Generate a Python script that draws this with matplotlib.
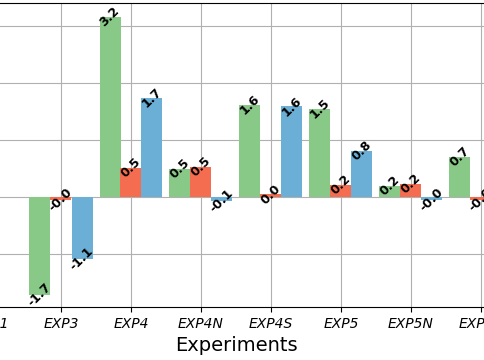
import numpy as np
import matplotlib
matplotlib.use("Agg")
import matplotlib.pyplot as plt

# experiments on the x axis (the picture only shows part of the full chart)
experiments = ["EXP1", "EXP3", "EXP4", "EXP4N", "EXP4S", "EXP5", "EXP5N", "EXP5S"]

# three series per experiment (nan = not visible in the picture)
green_vals = [np.nan, -1.72, 3.16, 0.49, 1.62, 1.54, 0.20, 0.70]
red_vals = [np.nan, -0.049, 0.51, 0.53, 0.045, 0.21, 0.23, -0.049]
blue_vals = [np.nan, -1.08, 1.74, -0.065, 1.59, 0.81, -0.049, np.nan]

series = [
    (green_vals, "#88c988", -0.3),
    (red_vals, "#f46d50", 0.0),
    (blue_vals, "#6baed6", 0.3),
]

fig = plt.figure(figsize=(4.85, 3.6), dpi=100)

# axes reach past the canvas edges, as in the cropped reference
x_lo, x_hi = -0.6, 7.6
px_per_cat = 70.0
left_px = -9 + x_lo * px_per_cat
width_px = (x_hi - x_lo) * px_per_cat
ax = fig.add_axes([left_px / 485.0, 53 / 360.0, width_px / 485.0, 304 / 360.0])

x = np.arange(len(experiments))
for vals, col, off in series:
    vals = np.asarray(vals, dtype=float)
    ax.bar(x + off, vals, width=0.3, color=col, zorder=2)
    for xi, v in zip(x, vals):
        if np.isnan(v):
            continue
        ax.text(xi + off, v, "{:.1f}".format(v), rotation=45, ha="center", va="center",
                fontsize=9, fontweight="bold", color="black", zorder=3)

ax.set_xlim(x_lo, x_hi)
ax.set_ylim(-1.93, 3.40)
ax.set_yticks([-1, 0, 1, 2, 3])
ax.set_xticks(x)
ax.set_xticklabels(experiments, fontsize=10, style="italic")
ax.set_xlabel("Experiments", fontsize=14)
ax.grid(True, color="#b0b0b0", linewidth=0.8)
ax.set_axisbelow(True)

fig.savefig("out.png", dpi=100)
